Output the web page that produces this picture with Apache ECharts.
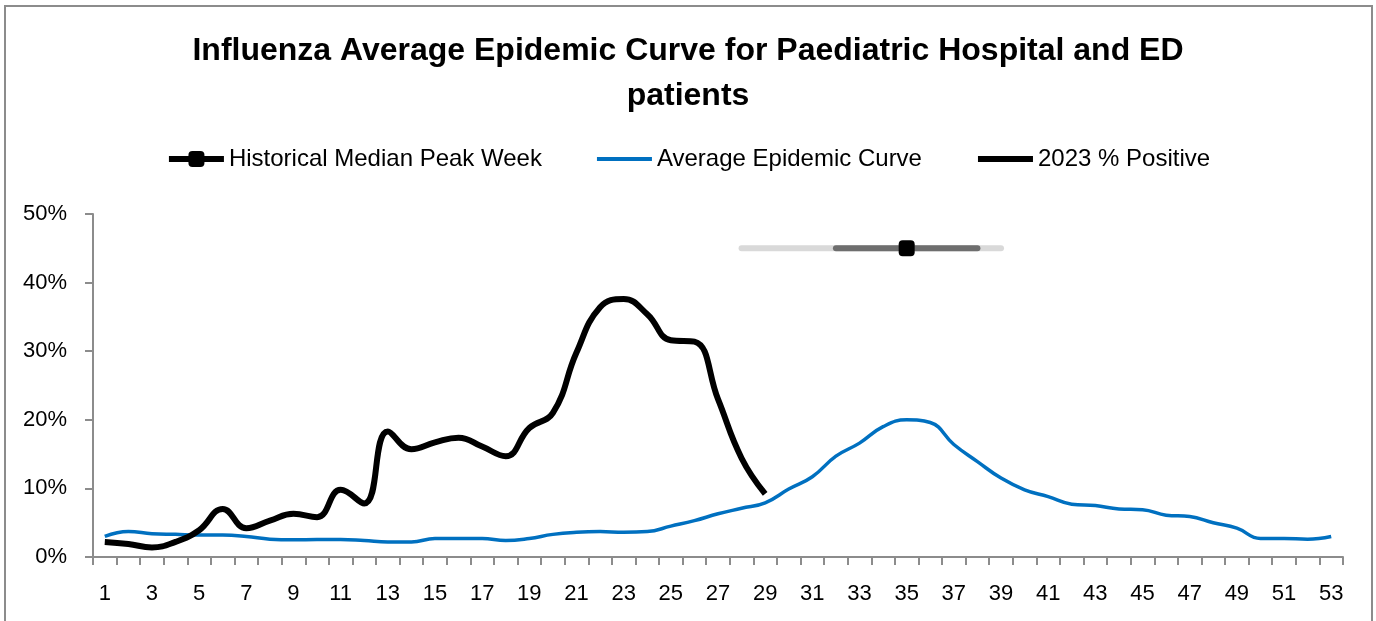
<!DOCTYPE html>
<html>
<head>
  <meta charset="utf-8">
  <title>Influenza Average Epidemic Curve</title>
  <style type="text/css">
    html, body { margin: 0; padding: 0; background: #fff; }
    #main { width: 1376px; height: 621px; }
  </style>
</head>
<body>
<div id="main"></div>
<script type="text/javascript" src="https://cdn.jsdelivr.net/npm/echarts@6/dist/echarts.min.js"></script>
<script type="text/javascript">
  // weeks 1..53
  var weeks = [];
  for (var i = 1; i <= 53; i++) weeks.push(String(i));

  // average epidemic curve (%), weeks 1-53
  var avgCurve = [
    3.0, 3.7, 3.4, 3.3, 3.2, 3.2, 3.0, 2.6, 2.5, 2.55,
    2.55, 2.4, 2.2, 2.2, 2.7, 2.7, 2.7, 2.4, 2.7, 3.3,
    3.6, 3.7, 3.6, 3.7, 4.5, 5.3, 6.3, 7.1, 7.9, 9.9,
    11.7, 14.7, 16.6, 19.0, 20.0, 19.6, 16.4, 13.9, 11.5, 9.8,
    8.8, 7.7, 7.5, 7.0, 6.9, 6.1, 5.9, 5.0, 4.2, 2.7,
    2.7, 2.6, 3.0
  ];

  // 2023 % positive, weeks 1-29
  var positive2023 = [
    2.2, 1.9, 1.4, 2.2, 3.9, 7.0, 4.2, 5.3, 6.3, 5.8,
    9.8, 7.8, 18.3, 15.7, 16.7, 17.4, 16.1, 14.7, 18.8, 21.0,
    29.8, 36.4, 37.6, 35.4, 31.6, 31.4, 23.0, 14.4, 9.2
  ];

  // historical median peak week with its ranges
  var peakWeek = 35;
  var peakLevel = 45;
  var peakOuterRange = [28, 39];
  var peakInnerRange = [32, 38];

  var font = "'Liberation Sans', Arial, sans-serif";

  function pct(arr) {
    return arr.map(function (v) { return v / 100; });
  }
  function span(range) {
    return [[String(range[0]), peakLevel / 100], [String(range[1]), peakLevel / 100]];
  }

  var titleStyle = { fontFamily: font, fontWeight: 'bold', fontSize: 32, color: '#000' };

  var myChart = echarts.init(document.getElementById('main'));

  var option = {
    animation: false,
    backgroundColor: '#fff',
    title: [
      { text: 'Influenza Average Epidemic Curve for Paediatric Hospital and ED', left: 'center', top: 35, padding: 0, textStyle: titleStyle },
      { text: 'patients', left: 'center', top: 80, padding: 0, textStyle: titleStyle }
    ],
    legend: {
      data: [
        { name: 'Historical Median Peak Week', lineStyle: { width: 6, color: '#000' } },
        { name: 'Average Epidemic Curve', lineStyle: { width: 4, color: '#0070c0' }, itemStyle: { opacity: 0 } },
        { name: '2023 % Positive', lineStyle: { width: 6, color: '#000' }, itemStyle: { opacity: 0 } }
      ],
      top: 142,
      left: 'center',
      itemWidth: 55,
      itemHeight: 20,
      itemGap: 53,
      textStyle: { fontFamily: font, fontSize: 24, color: '#000' }
    },
    grid: { left: 93, right: 33, top: 214, bottom: 64 },
    xAxis: {
      type: 'category',
      data: weeks,
      boundaryGap: true,
      axisLine: { lineStyle: { color: '#8c8c8c', width: 2 } },
      axisTick: { show: true, interval: 0, length: 8, lineStyle: { color: '#8c8c8c', width: 2 } },
      axisLabel: { interval: 1, margin: 26, fontFamily: font, fontSize: 22, color: '#000' }
    },
    yAxis: {
      type: 'value',
      min: 0,
      max: 0.5,
      interval: 0.1,
      splitLine: { show: false },
      axisLine: { show: true, lineStyle: { color: '#8c8c8c', width: 2 } },
      axisTick: { show: true, length: 8, lineStyle: { color: '#8c8c8c', width: 2 } },
      axisLabel: {
        margin: 26,
        fontFamily: font,
        fontSize: 22,
        color: '#000',
        formatter: function (v) { return Math.round(v * 100) + '%'; }
      }
    },
    series: [
      {
        name: 'peakOuter',
        type: 'line',
        data: span(peakOuterRange),
        symbol: 'none',
        silent: true,
        lineStyle: { color: '#d9d9d9', width: 6, cap: 'round' },
        z: 1
      },
      {
        name: 'peakInner',
        type: 'line',
        data: span(peakInnerRange),
        symbol: 'none',
        silent: true,
        lineStyle: { color: '#6e6e6e', width: 6, cap: 'round' },
        z: 2
      },
      {
        name: 'Historical Median Peak Week',
        type: 'line',
        data: [[String(peakWeek), peakLevel / 100]],
        symbol: 'roundRect',
        symbolSize: 16,
        itemStyle: { color: '#000' },
        lineStyle: { color: '#000', width: 6 },
        z: 5
      },
      {
        name: 'Average Epidemic Curve',
        type: 'line',
        data: pct(avgCurve),
        smooth: 0.45,
        symbol: 'none',
        itemStyle: { color: '#0070c0' },
        lineStyle: { color: '#0070c0', width: 3.5 },
        z: 3
      },
      {
        name: '2023 % Positive',
        type: 'line',
        data: pct(positive2023),
        smooth: 0.45,
        symbol: 'none',
        itemStyle: { color: '#000' },
        lineStyle: { color: '#000', width: 6 },
        z: 4
      }
    ],
    graphic: [{
      type: 'rect',
      shape: { x: 5, y: 6, width: 1367, height: 640 },
      style: { fill: null, stroke: '#8c8c8c', lineWidth: 2 },
      silent: true
    }]
  };

  myChart.setOption(option);
</script>
</body>
</html>
